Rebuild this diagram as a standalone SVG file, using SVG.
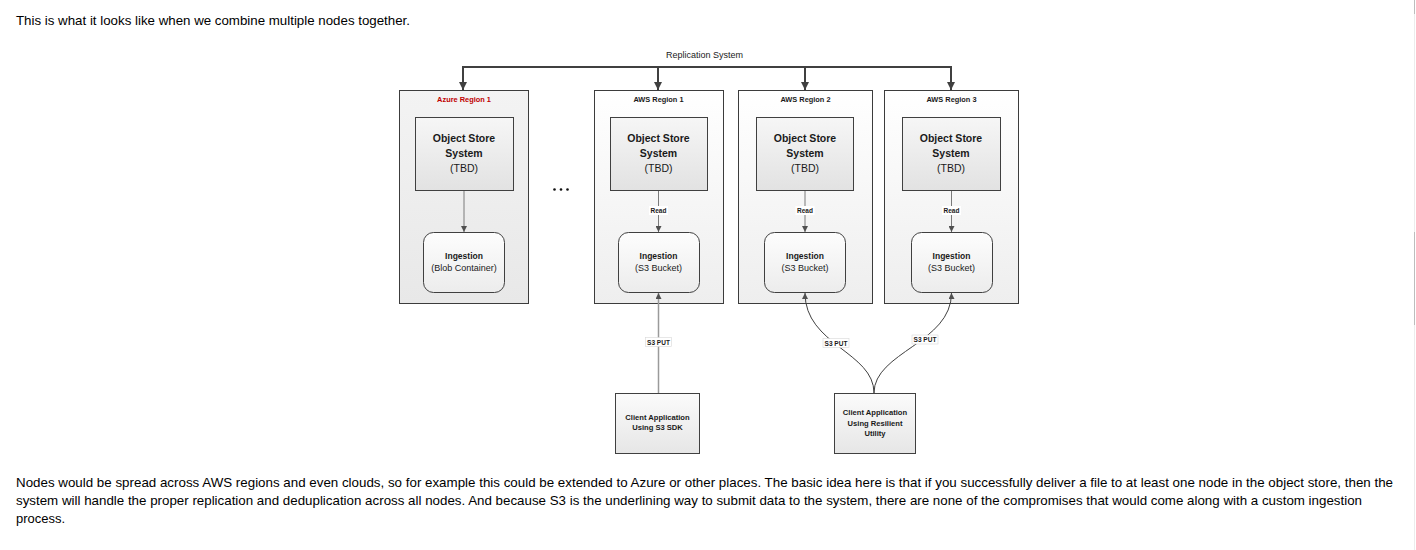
<svg xmlns="http://www.w3.org/2000/svg" width="1416" height="550" viewBox="0 0 1416 550">
<defs>
<linearGradient id="gAzure" x1="0" y1="0" x2="0" y2="1"><stop offset="0" stop-color="#f3f3f3"/><stop offset="1" stop-color="#e8e8e8"/></linearGradient>
<linearGradient id="gAws" x1="0" y1="0" x2="0" y2="1"><stop offset="0" stop-color="#ffffff"/><stop offset="1" stop-color="#eeeeee"/></linearGradient>
<linearGradient id="gStore" x1="0" y1="0" x2="0" y2="1"><stop offset="0" stop-color="#f6f6f6"/><stop offset="1" stop-color="#e2e2e2"/></linearGradient>
<linearGradient id="gIng" x1="0" y1="0" x2="0" y2="1"><stop offset="0" stop-color="#fdfdfd"/><stop offset="1" stop-color="#ececec"/></linearGradient>
<linearGradient id="gClient" x1="0" y1="0" x2="0" y2="1"><stop offset="0" stop-color="#fbfbfb"/><stop offset="1" stop-color="#e6e6e6"/></linearGradient>
<marker id="aBig" viewBox="0 0 10 10" refX="10" refY="5" markerWidth="4" markerHeight="4" orient="auto" markerUnits="strokeWidth"><path d="M0,0 L10,5 L0,10 z" fill="#404040"/></marker>
<marker id="aSmall" viewBox="0 0 10 10" refX="10" refY="5" markerWidth="6" markerHeight="6" orient="auto" markerUnits="userSpaceOnUse"><path d="M0,0 L10,5 L0,10 z" fill="#505050"/></marker>
</defs>
<style>
.para{font-family:"Liberation Sans",Arial,sans-serif;font-size:13px;fill:#000}
.d{font-family:"Liberation Sans",Arial,sans-serif;text-anchor:middle;fill:#1a1a1a}
.title{font-size:7.4px;font-weight:bold}
.store{font-size:10.5px;font-weight:bold}
.storeSub{font-size:10.5px}
.ing{font-size:8.5px;font-weight:bold}
.ingSub{font-size:9px}
.lbl{font-size:6.5px;font-weight:bold}
.client{font-size:7.6px;font-weight:bold}
.region{stroke:#3c3c3c;stroke-width:1}
.box{stroke:#404040;stroke-width:1}
.bus{stroke:#404040;stroke-width:2;fill:none}
.inner{stroke:#7a7a7a;stroke-width:1;fill:none}
.put{stroke:#9a9a9a;stroke-width:1.5;fill:none}
.curve{stroke:#404040;stroke-width:1;fill:none}
</style>
<rect width="1416" height="550" fill="#ffffff"/>
<line x1="1414.5" y1="0" x2="1414.5" y2="550" stroke="#ececec" stroke-width="1"/>
<line x1="1414.5" y1="0" x2="1414.5" y2="14" stroke="#bdbdbd" stroke-width="1"/>
<line x1="1414.5" y1="232" x2="1414.5" y2="325" stroke="#bdbdbd" stroke-width="1"/>

<text class="para" x="16" y="25" textLength="394" lengthAdjust="spacingAndGlyphs">This is what it looks like when we combine multiple nodes together.</text>

<text class="d" x="704.5" y="58" font-size="9">Replication System</text>

<g id="azure-region-1">
<rect class="region" x="399.5" y="90.5" width="129" height="213" fill="url(#gAzure)"/>
<text class="d title" x="464" y="101.5" style="fill:#c00000">Azure Region 1</text>
</g>
<g id="aws-region-1">
<rect class="region" x="594.5" y="90.5" width="129" height="213" fill="url(#gAws)"/>
<text class="d title" x="658.5" y="101.5">AWS Region 1</text>
</g>
<g id="aws-region-2">
<rect class="region" x="738.5" y="90.5" width="134" height="213" fill="url(#gAws)"/>
<text class="d title" x="805.5" y="101.5">AWS Region 2</text>
</g>
<g id="aws-region-3">
<rect class="region" x="884.5" y="90.5" width="134" height="213" fill="url(#gAws)"/>
<text class="d title" x="951.5" y="101.5">AWS Region 3</text>
</g>

<g id="store-azure">
<rect class="box" x="415.5" y="117.5" width="98" height="73" fill="url(#gStore)"/>
<text class="d store" x="464" y="142">Object Store</text>
<text class="d store" x="464" y="157">System</text>
<text class="d storeSub" x="464" y="172">(TBD)</text>
</g>
<g id="store-aws1">
<rect class="box" x="610.5" y="117.5" width="97" height="73" fill="url(#gStore)"/>
<text class="d store" x="658.5" y="142">Object Store</text>
<text class="d store" x="658.5" y="157">System</text>
<text class="d storeSub" x="658.5" y="172">(TBD)</text>
</g>
<g id="store-aws2">
<rect class="box" x="756.5" y="117.5" width="97" height="73" fill="url(#gStore)"/>
<text class="d store" x="805" y="142">Object Store</text>
<text class="d store" x="805" y="157">System</text>
<text class="d storeSub" x="805" y="172">(TBD)</text>
</g>
<g id="store-aws3">
<rect class="box" x="902.5" y="117.5" width="98" height="73" fill="url(#gStore)"/>
<text class="d store" x="951" y="142">Object Store</text>
<text class="d store" x="951" y="157">System</text>
<text class="d storeSub" x="951" y="172">(TBD)</text>
</g>

<g id="ingestion-azure">
<rect class="box" x="423.5" y="232.5" width="81" height="60" rx="10" fill="url(#gIng)"/>
<text class="d ing" x="464" y="259">Ingestion</text>
<text class="d ingSub" x="464" y="271">(Blob Container)</text>
</g>
<g id="ingestion-aws1">
<rect class="box" x="618.5" y="232.5" width="81" height="60" rx="10" fill="url(#gIng)"/>
<text class="d ing" x="658.5" y="259">Ingestion</text>
<text class="d ingSub" x="658.5" y="271">(S3 Bucket)</text>
</g>
<g id="ingestion-aws2">
<rect class="box" x="764.5" y="232.5" width="81" height="60" rx="10" fill="url(#gIng)"/>
<text class="d ing" x="805" y="259">Ingestion</text>
<text class="d ingSub" x="805" y="271">(S3 Bucket)</text>
</g>
<g id="ingestion-aws3">
<rect class="box" x="911.5" y="232.5" width="81" height="60" rx="10" fill="url(#gIng)"/>
<text class="d ing" x="951.5" y="259">Ingestion</text>
<text class="d ingSub" x="951.5" y="271">(S3 Bucket)</text>
</g>

<g id="ellipsis">
<circle cx="554.5" cy="189.5" r="1.3" fill="#111"/>
<circle cx="561" cy="189.5" r="1.3" fill="#111"/>
<circle cx="567.5" cy="189.5" r="1.3" fill="#111"/>
</g>

<g id="client-sdk">
<rect class="box" x="615.5" y="393.5" width="84" height="60" fill="url(#gClient)"/>
<text class="d client" x="657.5" y="420">Client Application</text>
<text class="d client" x="657.5" y="430">Using S3 SDK</text>
</g>
<g id="client-resilient">
<rect class="box" x="834.5" y="393.5" width="81" height="60" fill="url(#gClient)"/>
<text class="d client" x="875" y="415">Client Application</text>
<text class="d client" x="875" y="425.5">Using Resilient</text>
<text class="d client" x="875" y="436">Utility</text>
</g>

<g id="connectors">
<path class="bus" d="M463,67 H952"/>
<path class="bus" d="M463,66 V90" marker-end="url(#aBig)"/>
<path class="bus" d="M658,66 V90" marker-end="url(#aBig)"/>
<path class="bus" d="M805,66 V90" marker-end="url(#aBig)"/>
<path class="bus" d="M951,66 V90" marker-end="url(#aBig)"/>

<path class="inner" d="M464,191 V232" marker-end="url(#aSmall)"/>
<path class="inner" d="M658.5,191 V232" marker-end="url(#aSmall)"/>
<path class="inner" d="M805,191 V232" marker-end="url(#aSmall)"/>
<path class="inner" d="M951.5,191 V232" marker-end="url(#aSmall)"/>
<rect x="649" y="206" width="19" height="9" fill="#ffffff"/>
<text class="d lbl" x="658.5" y="213">Read</text>
<rect x="795.5" y="206" width="19" height="9" fill="#ffffff"/>
<text class="d lbl" x="805" y="213">Read</text>
<rect x="942" y="206" width="19" height="9" fill="#ffffff"/>
<text class="d lbl" x="951.5" y="213">Read</text>

<path class="put" d="M658.5,393 V293" marker-end="url(#aSmall)"/>
<rect x="645.5" y="337.5" width="26" height="9" fill="#ffffff" stroke="#d8d8d8" stroke-width="0.6"/>
<text class="d lbl" x="658.5" y="344.5">S3 PUT</text>

<path class="curve" d="M874,393 C874,352 805,345 805,293" marker-end="url(#aSmall)"/>
<path class="curve" d="M874,393 C874,352 951.5,343 951.5,293" marker-end="url(#aSmall)"/>
<rect x="823" y="338.5" width="26" height="9" fill="#ffffff" stroke="#d8d8d8" stroke-width="0.6"/>
<text class="d lbl" x="836" y="345.5">S3 PUT</text>
<rect x="912" y="335" width="26" height="9" fill="#ffffff" stroke="#d8d8d8" stroke-width="0.6"/>
<text class="d lbl" x="925" y="342">S3 PUT</text>
</g>

<text class="para" x="16" y="487" textLength="1377" lengthAdjust="spacingAndGlyphs">Nodes would be spread across AWS regions and even clouds, so for example this could be extended to Azure or other places. The basic idea here is that if you successfully deliver a file to at least one node in the object store, then the</text>
<text class="para" x="16" y="504.5" textLength="1346" lengthAdjust="spacingAndGlyphs">system will handle the proper replication and deduplication across all nodes. And because S3 is the underlining way to submit data to the system, there are none of the compromises that would come along with a custom ingestion</text>
<text class="para" x="16" y="522.5" textLength="49" lengthAdjust="spacingAndGlyphs">process.</text>
</svg>
